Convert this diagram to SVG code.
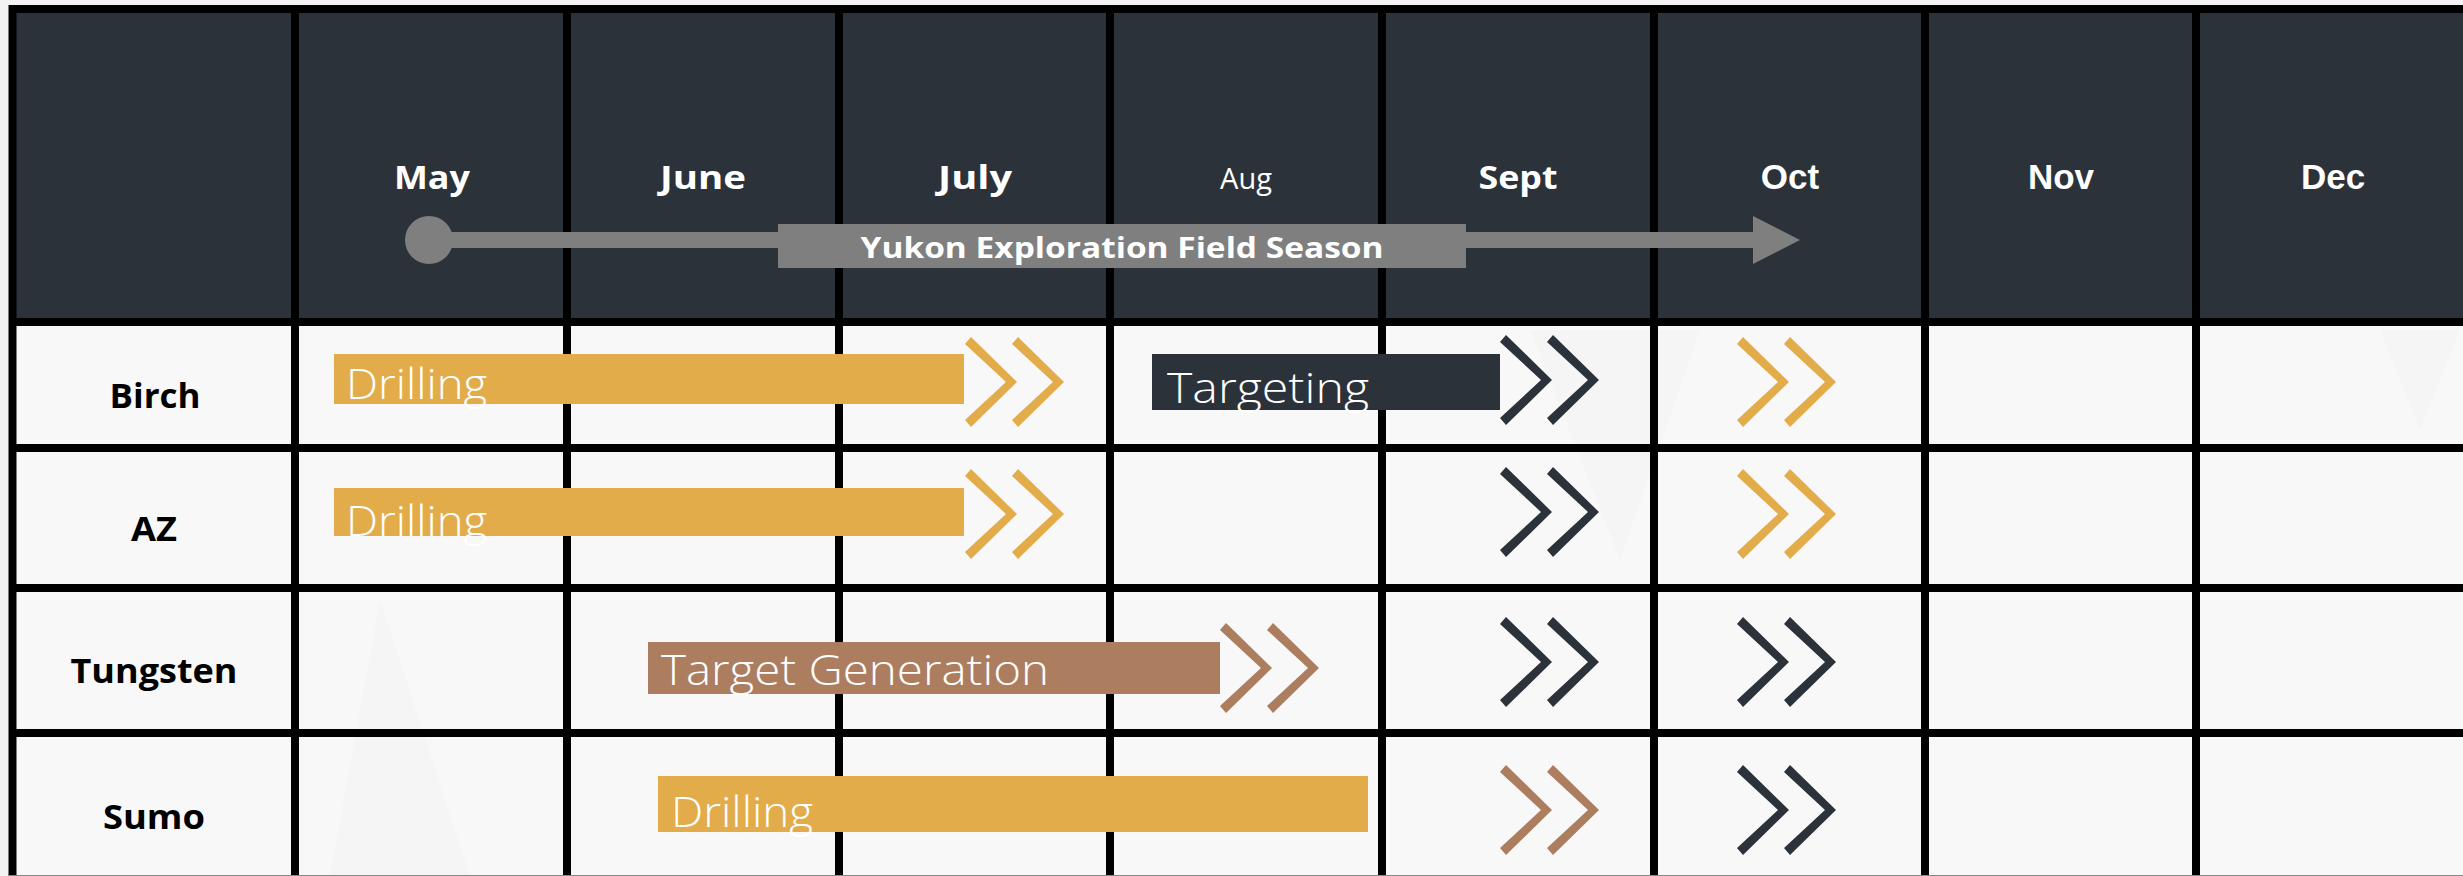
<svg xmlns="http://www.w3.org/2000/svg" width="2463" height="876" viewBox="0 0 2463 876">
<style>
.bg{fill:#F3F3F3}
.hdr{fill:#2B323A}
.cell{fill:#F8F8F8}
.grid{stroke:#000;stroke-width:8;fill:none}
.mon{font-family:"Open Sans","Liberation Sans",sans-serif;font-weight:700;font-size:33px;fill:#FFFFFF;text-anchor:middle}
.mon2{font-family:"Liberation Sans",Arial,sans-serif;font-weight:700;font-size:35px;fill:#FFFFFF;text-anchor:middle}
.aug{font-family:"Open Sans","Liberation Sans",sans-serif;font-weight:400;font-size:29px;fill:#FFFFFF;text-anchor:middle}
.row{font-family:"Open Sans","Liberation Sans",sans-serif;font-weight:700;font-size:34px;fill:#000000;text-anchor:middle}
.bar{font-family:"Open Sans","Liberation Sans",sans-serif;font-weight:300;font-size:43px;fill:#FFFFFF}
.season{font-family:"Open Sans","Liberation Sans",sans-serif;font-weight:700;font-size:29px;fill:#FFFFFF;text-anchor:middle}
.gold{fill:#E3AC4B}
.dark{fill:#2B323A}
.brown{fill:#AD7D5F}
.gray{fill:#7F7F7F}
.tri{fill:#F5F5F5}
</style>
<defs>
<polygon id="chev" points="6,0 52,45 6,90 0,83 41,45 0,7"/>
</defs>
<rect class="bg" x="0" y="0" width="2463" height="876"/>
<g id="table">
<rect class="hdr" x="12" y="9" width="2451" height="313"/>
<rect class="cell" x="12" y="322" width="2451" height="554"/>
<polygon class="tri" points="2380,330 2420,430 2460,330"/>
<polygon class="tri" points="380,600 330,876 470,876"/>
<polygon class="tri" points="1530,330 1620,560 1700,330"/>
<g class="grid">
<line x1="12.5" y1="5" x2="12.5" y2="876"/>
<line x1="295" y1="5" x2="295" y2="876"/>
<line x1="567" y1="5" x2="567" y2="876"/>
<line x1="839" y1="5" x2="839" y2="876"/>
<line x1="1110" y1="5" x2="1110" y2="876"/>
<line x1="1382" y1="5" x2="1382" y2="876"/>
<line x1="1654" y1="5" x2="1654" y2="876"/>
<line x1="1925" y1="5" x2="1925" y2="876"/>
<line x1="2196" y1="5" x2="2196" y2="876"/>
<line x1="9" y1="9" x2="2463" y2="9"/>
<line x1="9" y1="322" x2="2463" y2="322"/>
<line x1="9" y1="448" x2="2463" y2="448"/>
<line x1="9" y1="588" x2="2463" y2="588"/>
<line x1="9" y1="733" x2="2463" y2="733"/>
</g>
<line x1="9" y1="875.5" x2="2463" y2="875.5" stroke="#888" stroke-width="1"/>
</g>
<g id="months">
<text class="mon" x="432" y="189" textLength="76" lengthAdjust="spacingAndGlyphs">May</text>
<text class="mon" x="703" y="189" textLength="86" lengthAdjust="spacingAndGlyphs">June</text>
<text class="mon" x="975" y="189" textLength="74" lengthAdjust="spacingAndGlyphs">July</text>
<text class="aug" x="1246" y="189">Aug</text>
<text class="mon" x="1518" y="189" textLength="79" lengthAdjust="spacingAndGlyphs">Sept</text>
<text class="mon2" x="1790" y="189">Oct</text>
<text class="mon2" x="2061" y="189">Nov</text>
<text class="mon2" x="2333" y="189">Dec</text>
</g>
<g id="connectors">
<circle class="gray" cx="429" cy="240" r="24"/>
<rect class="gray" x="429" y="232" width="1325" height="16"/>
<polygon class="gray" points="1753,216 1800,240 1753,264"/>
</g>
<g id="season-label">
<rect class="gray" x="778" y="224" width="688" height="44"/>
<text class="season" x="1122" y="258" textLength="523" lengthAdjust="spacingAndGlyphs">Yukon Exploration Field Season</text>
</g>
<g id="row-birch">
<text class="row" x="155" y="408" textLength="91" lengthAdjust="spacingAndGlyphs">Birch</text>
</g>
<g id="row-az">
<text class="row" x="154" y="541" textLength="46" lengthAdjust="spacingAndGlyphs">AZ</text>
</g>
<g id="row-tungsten">
<text class="row" x="154" y="683" textLength="167" lengthAdjust="spacingAndGlyphs">Tungsten</text>
</g>
<g id="row-sumo">
<text class="row" x="154" y="829" textLength="102" lengthAdjust="spacingAndGlyphs">Sumo</text>
</g>
<g id="birch-drilling">
<rect class="gold" x="334" y="354" width="630" height="50"/>
<text class="bar" x="346" y="399" textLength="141" lengthAdjust="spacingAndGlyphs">Drilling</text>
</g>
<g id="az-drilling">
<rect class="gold" x="334" y="488" width="630" height="48"/>
<text class="bar" x="346" y="536" textLength="141" lengthAdjust="spacingAndGlyphs">Drilling</text>
</g>
<g id="birch-targeting">
<rect class="dark" x="1152" y="354" width="348" height="56"/>
<text class="bar" x="1167" y="403" textLength="202" lengthAdjust="spacingAndGlyphs">Targeting</text>
</g>
<g id="tungsten-target-generation">
<rect class="brown" x="648" y="642" width="572" height="52"/>
<text class="bar" x="661" y="685" textLength="388" lengthAdjust="spacingAndGlyphs">Target Generation</text>
</g>
<g id="sumo-drilling">
<rect class="gold" x="658" y="776" width="710" height="56"/>
<text class="bar" x="671" y="827" textLength="142" lengthAdjust="spacingAndGlyphs">Drilling</text>
</g>
<g id="chevrons">
<g class="gold"><use href="#chev" x="965" y="337"/><use href="#chev" x="1012" y="337"/></g>
<g class="dark"><use href="#chev" x="1500" y="335"/><use href="#chev" x="1547" y="335"/></g>
<g class="gold"><use href="#chev" x="1737" y="337"/><use href="#chev" x="1784" y="337"/></g>
<g class="gold"><use href="#chev" x="965" y="469"/><use href="#chev" x="1012" y="469"/></g>
<g class="dark"><use href="#chev" x="1500" y="467"/><use href="#chev" x="1547" y="467"/></g>
<g class="gold"><use href="#chev" x="1737" y="469"/><use href="#chev" x="1784" y="469"/></g>
<g class="brown"><use href="#chev" x="1220" y="623"/><use href="#chev" x="1267" y="623"/></g>
<g class="dark"><use href="#chev" x="1500" y="617"/><use href="#chev" x="1547" y="617"/></g>
<g class="dark"><use href="#chev" x="1737" y="617"/><use href="#chev" x="1784" y="617"/></g>
<g class="brown"><use href="#chev" x="1500" y="765"/><use href="#chev" x="1547" y="765"/></g>
<g class="dark"><use href="#chev" x="1737" y="765"/><use href="#chev" x="1784" y="765"/></g>
</g>
</svg>
